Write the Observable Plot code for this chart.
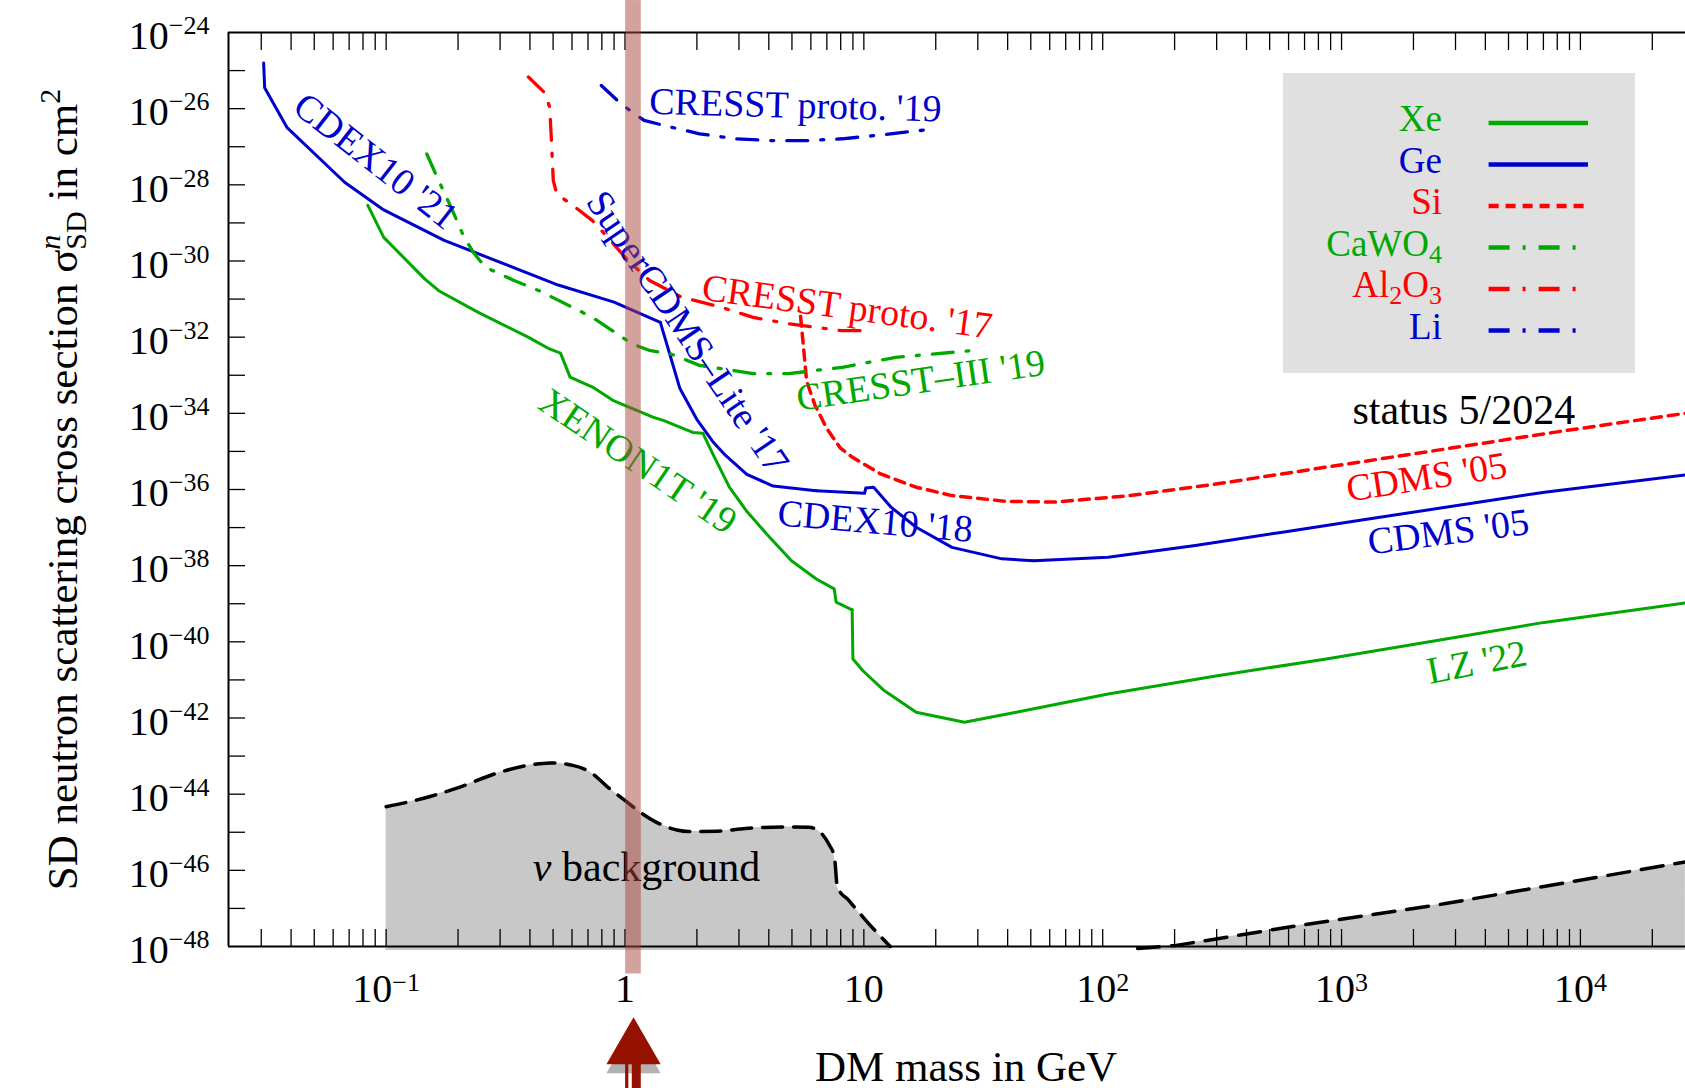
<!DOCTYPE html>
<html>
<head>
<meta charset="utf-8">
<script src="https://cdn.jsdelivr.net/npm/d3@7"></script>
<script src="https://cdn.jsdelivr.net/npm/@observablehq/plot@0.6"></script>
<style>
  html, body { margin: 0; padding: 0; background: #fff; overflow: hidden; }
  #chart { position: relative; width: 1685px; height: 1088px; }
  #legend { position: absolute; left: 1283px; top: 73px; width: 352px; height: 300px; background: #e0e0e0; }
</style>
</head>
<body>
<div id="chart"></div>
<script>
// Spin-dependent DM–neutron exclusion limits: [mass in GeV, cross section in cm²]
const xenon1t19 = [[0.0838,2.88e-29],[0.0977,4.17e-30],[0.145,3.39e-31],[0.166,1.66e-31],[0.243,4.47e-32],[0.393,1.00e-32],[0.483,4.90e-33],[0.537,3.80e-33],[0.589,8.91e-34],[0.731,4.90e-34],[0.889,2.19e-34],[1.309,7.94e-35],[1.455,6.46e-35],[1.923,3.16e-35],[2.118,3.02e-35],[2.328,8.71e-36],[2.735,1.15e-36],[3.214,2.82e-37],[3.908,6.92e-38],[4.977,1.35e-38],[6.324,4.47e-39],[7.516,2.45e-39],[7.656,1.10e-39],[8.933,6.92e-40]];
const lz22 = [[8.933,6.92e-40],[9.00,3.55e-41],[9.91,1.74e-41],[12.16,5.25e-42],[16.56,1.41e-42],[26.36,7.76e-43],[43.45,1.41e-42],[105.4,4.27e-42],[302,1.29e-41],[863,3.55e-41],[2472,1.07e-40],[7063,3.24e-40],[27500,1.05e-39]];
const cdex10_21 = [[0.0307,1.585e-25],[0.0310,3.55e-26],[0.0384,3.24e-27],[0.0670,1.17e-28],[0.0977,2.19e-29],[0.175,3.47e-30],[0.234,1.70e-30],[0.525,2.34e-31],[0.900,8.32e-32],[1.406,2.45e-32]];
const superCdmsLite17 = [[1.406,2.45e-32],[1.549,3.16e-33],[1.698,4.47e-34],[1.995,7.08e-35],[2.344,1.74e-35],[2.630,7.94e-36],[3.236,2.51e-36],[4.169,1.23e-36],[6.310,9.33e-37]];
const cdex10_18 = [[6.310,9.33e-37],[10.07,7.94e-37],[10.19,1.10e-36],[10.99,1.15e-36],[13.03,3.39e-37],[16.56,1.02e-37],[23.39,3.02e-38],[37.84,1.51e-38],[51.52,1.35e-38]];
const cdms05Ge = [[51.52,1.35e-38],[105.4,1.66e-38],[244.3,3.39e-38],[566.2,7.59e-38],[1315,1.70e-37],[3048,3.80e-37],[7079,8.51e-37],[27500,2.40e-36]];
const cdms05Si = [[5.433,3.55e-32],[5.623,3.63e-33],[5.754,7.24e-34],[6.237,1.66e-34],[6.998,3.98e-35],[7.943,1.26e-35],[8.933,7.08e-36],[11.75,2.57e-36],[16.56,1.15e-36],[23.39,6.92e-37],[39.17,4.90e-37],[63.1,4.68e-37],[130,6.92e-37],[302,1.41e-36],[700,3.16e-36],[1626,7.08e-36],[3758,1.58e-35],[8730,3.55e-35],[27500,1.0e-34]];
const cresstIII19 = [[0.148,6.46e-28],[0.161,1.95e-28],[0.187,2.57e-29],[0.212,4.17e-30],[0.234,1.55e-30],[0.260,6.92e-31],[0.343,3.09e-31],[0.437,1.66e-31],[0.731,3.31e-32],[1.067,6.76e-33],[1.268,4.47e-33],[1.556,3.63e-33],[2.051,1.82e-33],[3.436,1.10e-33],[4.842,1.10e-33],[8.110,1.62e-33],[13.58,2.95e-33],[27.5,4.37e-33]];
const cresstProto17 = [[0.394,6.76e-26],[0.459,2.69e-26],[0.484,1.10e-26],[0.492,1.45e-27],[0.501,1.29e-28],[0.518,5.75e-29],[0.605,2.88e-29],[0.731,1.15e-29],[0.869,3.47e-30],[1.030,1.02e-30],[1.268,3.09e-31],[1.726,1.12e-31],[2.518,6.17e-32],[3.436,3.31e-32],[4.842,2.24e-32],[8.110,1.48e-32],[9.638,1.48e-32]];
const cresstProto19 = [[0.796,4.07e-26],[0.931,1.62e-26],[1.050,8.91e-27],[1.202,4.90e-27],[1.455,3.63e-27],[2.051,2.19e-27],[2.891,1.62e-27],[4.074,1.45e-27],[5.754,1.45e-27],[8.110,1.62e-27],[11.46,2.00e-27],[19.82,2.95e-27]];

// Neutrino background (coherent scattering floor)
const nuFloorLow = [[0.100,4.68e-45],[0.145,7.94e-45],[0.202,1.51e-44],[0.297,3.72e-44],[0.438,6.31e-44],[0.489,6.61e-44],[0.610,5.62e-44],[0.719,3.72e-44],[0.849,1.51e-44],[1.002,6.76e-45],[1.186,3.02e-45],[1.396,1.66e-45],[1.648,1.15e-45],[1.841,1.05e-45],[2.427,1.07e-45],[3.199,1.26e-45],[4.710,1.38e-45],[5.875,1.35e-45],[6.561,1.00e-45],[7.129,4.90e-46],[7.534,2.19e-46],[7.745,3.63e-47],[8.650,1.62e-47],[10.21,4.79e-48],[12.9,1.0e-48]];
const nuFloorHigh = [[140,8.9e-49],[203,1.07e-48],[604,3.24e-48],[2685,1.32e-47],[27500,1.66e-46]];

// Target materials and their line styles
const materials = ["Xe", "Ge", "Si", "CaWO4", "Al2O3", "Li"];
const materialLabels = ["Xe", "Ge", "Si", "CaWO_{4}", "Al_{2}O_{3}", "Li"];
const materialColors = ["#00a800", "#0000cc", "#ff0000", "#00a800", "#ff0000", "#0000cc"];
const materialDash = [null, null, "10,7", "21,13,3,13", "21,13,3,13", "21,13,3,13"];
const materialWidth = [3, 3, 3.5, 3.3, 3.3, 3.3];

const curves = [
  {data: xenon1t19, material: "Xe"},
  {data: lz22, material: "Xe"},
  {data: cdex10_21, material: "Ge"},
  {data: superCdmsLite17, material: "Ge"},
  {data: cdex10_18, material: "Ge"},
  {data: cdms05Ge, material: "Ge"},
  {data: cdms05Si, material: "Si"},
  {data: cresstIII19, material: "CaWO4"},
  {data: cresstProto17, material: "Al2O3"},
  {data: cresstProto19, material: "Li"}
];

// Curve labels: text, anchor point (GeV, cm²), rotation in degrees, material
const curveLabels = [
  {text: "CDEX10 '21", m: 0.0904, s: 4.17e-28, angle: 38, material: "Ge"},
  {text: "CRESST proto. '19", m: 5.17, s: 1.21e-26, angle: 1.5, material: "Li"},
  {text: "SuperCDMS–Lite '17", m: 1.827, s: 1.35e-32, angle: 56, material: "Ge"},
  {text: "CRESST proto. '17", m: 8.51, s: 6.17e-32, angle: 7.7, material: "Al2O3"},
  {text: "CRESST–III '19", m: 17.3, s: 7.24e-34, angle: -8.3, material: "CaWO4"},
  {text: "XENON1T '19", m: 1.132, s: 5.50e-36, angle: 34, material: "Xe"},
  {text: "CDEX10 '18", m: 11.16, s: 1.45e-37, angle: 4.9, material: "Ge"},
  {text: "CDMS '05", m: 2271, s: 2.09e-36, angle: -8.7, material: "Si"},
  {text: "CDMS '05", m: 2801, s: 7.59e-38, angle: -7.3, material: "Ge"},
  {text: "LZ '22", m: 3690, s: 2.88e-41, angle: -11, material: "Xe"}
];
const notes = [
  {text: "*{ν} background", m: 1.231, s: 1.17e-46},
  {text: "status 5/2024", m: 3251, s: 1.17e-34}
];

// Highlighted mass window near 1 GeV
const highlight = {m1: 1.006, m2: 1.17, mass: 1.086, bandLow: 1.9e-49, bandHigh: 6.9e-24,
  head: 2.09e-51, shaftTop: 1.0e-51, shaftBottom: 1.2e-52, shaftGap1: 1.038, shaftGap2: 1.073};

const xDomain = [10 ** -1.66, 10 ** 4.44];
const yDomain = [1e-48, 1e-24];
const xTicks = [];
for (let e = -2; e <= 4; e++) for (let d = 1; d <= 9; d++) {
  const v = d * 10 ** e;
  if (v >= xDomain[0] && v <= xDomain[1]) xTicks.push(v);
}
const xLabelTicks = [0.1, 1, 10, 100, 1000, 10000];
const yTicks = d3.range(-47, -24).map(e => 10 ** e);
const yLabelTicks = d3.range(-48, -23, 2).map(e => 10 ** e);

const font = '"Liberation Serif", "Times New Roman", serif';
const style = m => materials.indexOf(m);
const colorOf = m => materialColors[style(m)];

const fmtX = d => {
  const e = Math.round(Math.log10(d));
  if (e === 0) return "1";
  if (e === 1) return "10";
  return `10^{${e < 0 ? "−" + (-e) : e}}`;
};
const fmtY = d => `10^{−${-Math.round(Math.log10(d))}}`;

const chart = Plot.plot({
  width: 1685,
  height: 1088,
  marginLeft: 228,
  marginRight: 0,
  marginTop: 32,
  marginBottom: 142,
  x: {type: "log", domain: xDomain},
  y: {type: "log", domain: yDomain},
  style: {fontFamily: font, fontSize: "38px", background: "#fff", overflow: "visible"},
  marks: [
    // neutrino background
    Plot.areaY(nuFloorLow, {x: d => d[0], y1: 7.9e-49, y2: d => d[1], fill: "#c8c8c8", curve: "monotone-x"}),
    Plot.areaY(nuFloorHigh, {x: d => d[0], y1: 7.9e-49, y2: d => d[1], fill: "#c8c8c8"}),
    Plot.line(nuFloorLow, {x: d => d[0], y: d => d[1], stroke: "#000", strokeWidth: 3.5, strokeDasharray: "20,11", curve: "monotone-x"}),
    Plot.line(nuFloorHigh, {x: d => d[0], y: d => d[1], stroke: "#000", strokeWidth: 3.5, strokeDasharray: "22,12"}),

    // exclusion limits
    ...curves.map(c => Plot.line(c.data, {
      x: d => d[0], y: d => d[1],
      stroke: colorOf(c.material),
      strokeWidth: materialWidth[style(c.material)],
      strokeDasharray: materialDash[style(c.material)],
      strokeLinejoin: "round"
    })),

    // labels
    Plot.text(curveLabels, {x: "m", y: "s", text: "text", rotate: "angle", fill: d => colorOf(d.material),
      fontSize: 38, textAnchor: "middle", lineAnchor: "middle"}),
    Plot.text(notes, {x: "m", y: "s", text: "text", fill: "#000", fontSize: 42, textAnchor: "middle", lineAnchor: "middle"}),

    // ticks (pointing inward) and tick labels
    Plot.axisX(xTicks, {anchor: "bottom", tickSize: -17, strokeWidth: 1.3, tickFormat: () => "", label: null}),
    Plot.axisX(xTicks, {anchor: "top", tickSize: -17, strokeWidth: 1.3, tickFormat: () => "", label: null}),
    Plot.axisY(yTicks, {anchor: "left", tickSize: -17, strokeWidth: 1.3, tickFormat: () => "", label: null}),
    Plot.axisX(xLabelTicks, {anchor: "bottom", tickSize: 0, tickPadding: 27, tickFormat: fmtX, fontSize: 40, fill: "#000", label: null}),
    Plot.axisY(yLabelTicks, {anchor: "left", tickSize: 0, tickPadding: 19, dy: 4, tickFormat: fmtY, fontSize: 40, fill: "#000", label: null}),

    // frame: top, bottom, left
    Plot.ruleY([yDomain[1], yDomain[0]], {stroke: "#000", strokeWidth: 2}),
    Plot.ruleX([xDomain[0]], {stroke: "#000", strokeWidth: 2}),

    // axis titles
    Plot.text(["DM mass in GeV"], {text: d => d, frameAnchor: "bottom", dy: 134, dx: 9, textAnchor: "middle", lineAnchor: "bottom", fontSize: 43, fill: "#000"}),
    Plot.text(["SD neutron scattering cross section σ^{*n}_{SD} in cm^{2}"], {text: d => d, frameAnchor: "left", dx: -152, rotate: -90, textAnchor: "middle", lineAnchor: "bottom", fontSize: 43, fill: "#000"}),

    // highlighted mass window and arrow
    Plot.rect([highlight], {x1: "m1", x2: "m2", y1: "bandLow", y2: "bandHigh", fill: "rgb(170,70,60)", fillOpacity: 0.5}),
    Plot.dot([highlight], {x: "mass", y: "head", symbol: "triangle", r: 20.15, dy: 9, fill: "#666", fillOpacity: 0.5}),
    Plot.rect([highlight], {x1: "m1", x2: "shaftGap1", y1: "shaftBottom", y2: "shaftTop", fill: "#961200"}),
    Plot.rect([highlight], {x1: "shaftGap2", x2: "m2", y1: "shaftBottom", y2: "shaftTop", fill: "#961200"}),
    Plot.dot([highlight], {x: "mass", y: "head", symbol: "triangle", r: 20.15, fill: "#961200"})
  ]
});

document.getElementById("chart").appendChild(chart);

// Legend for the target materials
const legend = document.createElement("div");
legend.id = "legend";
const rows = materials.map((m, i) => {
  const base = 58.4 + i * 41.5;
  const ly = base - 8.4;
  const dash = materialDash[i] ? ` stroke-dasharray="${materialDash[i]}"` : "";
  return `<text x="159" y="${base}" text-anchor="end" fill="${materialColors[i]}">${materialLabels[i]}</text>` +
    `<line x1="205.6" x2="305" y1="${ly}" y2="${ly}" stroke="${materialColors[i]}" stroke-width="4.5"${dash}/>`;
}).join("");
legend.innerHTML = `<svg width="352" height="300" style="font-family:${font.replace(/"/g, "'")};font-size:37px">${rows}</svg>`;
document.getElementById("chart").appendChild(legend);

// Superscripts, subscripts and italics written as ^{..}, _{..}, *{..}
const NS = "http://www.w3.org/2000/svg";
function rich(el, str, o) {
  const re = /(\^|_|\*)\{([^}]*)\}/g;
  const parts = [];
  let last = 0, m;
  while ((m = re.exec(str))) {
    if (m.index > last) parts.push({k: "", t: str.slice(last, m.index)});
    parts.push({k: m[1], t: m[2]});
    last = re.lastIndex;
  }
  if (last < str.length) parts.push({k: "", t: str.slice(last)});
  el.textContent = "";
  let shift = 0, prev = null;
  for (const p of parts) {
    const ts = document.createElementNS(NS, "tspan");
    let t = p.t, target = 0;
    if (p.k !== "*" && t.startsWith("*")) { t = t.slice(1); ts.setAttribute("font-style", "italic"); }
    if (p.k === "^") { target = -o.sup; ts.setAttribute("font-size", o.script); }
    else if (p.k === "_") {
      target = o.sub; ts.setAttribute("font-size", o.script);
      if (prev && prev.k === "^") ts.setAttribute("dx", -prev.el.getComputedTextLength());
    } else if (p.k === "*") ts.setAttribute("font-style", "italic");
    if (target !== shift) ts.setAttribute("dy", target - shift);
    shift = target;
    ts.textContent = t;
    el.appendChild(ts);
    prev = {k: p.k, el: ts};
  }
}
document.querySelectorAll("#chart text").forEach(t => {
  const s = t.textContent;
  if (!/[\^_*]\{/.test(s)) return;
  const g = t.closest("g[aria-label]");
  const label = g ? g.getAttribute("aria-label") : "";
  if (label.startsWith("y-axis")) rich(t, s, {sup: 15, sub: 0, script: 26});
  else if (label.startsWith("x-axis")) rich(t, s, {sup: 11, sub: 0, script: 26});
  else if (s.startsWith("SD neutron")) rich(t, s, {sup: 17, sub: 9, script: 30});
  else rich(t, s, {sup: 12, sub: 7, script: 26});
});
</script>
</body>
</html>
